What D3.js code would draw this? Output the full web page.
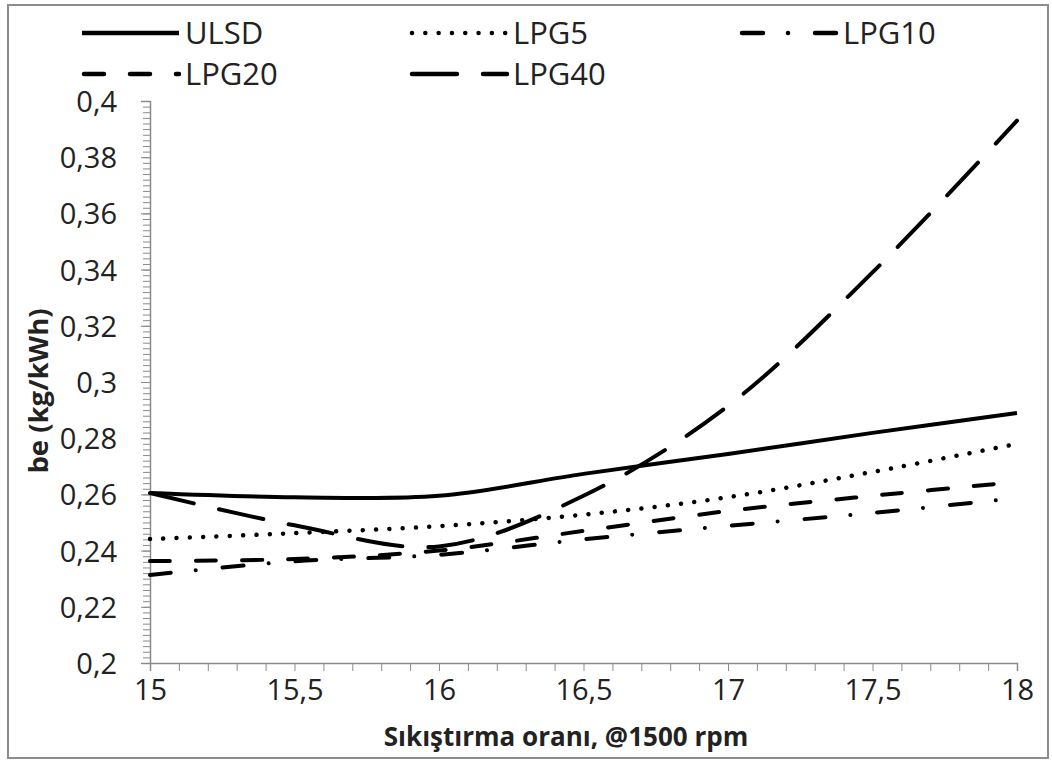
<!DOCTYPE html>
<html>
<head>
<meta charset="utf-8">
<script src="https://cdn.jsdelivr.net/npm/d3@7"></script>
<style>
  html, body { margin: 0; padding: 0; background: #fff; }
  svg { display: block; }
  text { font-family: "Open Sans", "Noto Sans", sans-serif; fill: #222; }
</style>
</head>
<body>
<svg id="chart" width="1052" height="761"></svg>
<script>
// Compression ratio (x) and brake specific fuel consumption (kg/kWh) per fuel
const ratios = [15, 15.5, 16, 16.5, 17, 17.5, 18];
const ulsd  = [0.2605, 0.2590, 0.2595, 0.2673, 0.2744, 0.2819, 0.2890];
const lpg5  = [0.2441, 0.2462, 0.2487, 0.2528, 0.2590, 0.2680, 0.2780];
const lpg10 = [0.2313, 0.2362, 0.2385, 0.2440, 0.2488, 0.2534, 0.2587];
const lpg20 = [0.2363, 0.2370, 0.2400, 0.2470, 0.2541, 0.2595, 0.2644];
const lpg40 = [0.2605, 0.2490, 0.2415, 0.2595, 0.2915, 0.3390, 0.3930];

const seriesNames = ["ULSD", "LPG5", "LPG10", "LPG20", "LPG40"];
const seriesValues = [ulsd, lpg5, lpg10, lpg20, lpg40];

const xTicks = [15, 15.5, 16, 16.5, 17, 17.5, 18];
const xTickLabels = ["15", "15,5", "16", "16,5", "17", "17,5", "18"];
const yTicks = [0.2, 0.22, 0.24, 0.26, 0.28, 0.3, 0.32, 0.34, 0.36, 0.38, 0.4];
const yTickLabels = ["0,2", "0,22", "0,24", "0,26", "0,28", "0,3", "0,32", "0,34", "0,36", "0,38", "0,4"];

const xTitle = "Sıkıştırma oranı, @1500 rpm";
const yTitle = "be (kg/kWh)";

// Line styles
const dashes = {
  ULSD:  null,
  LPG5:  "0.01 13.3",
  LPG10: "21 25 0.01 27",
  LPG20: "20 26",
  LPG40: "45 26"
};

const svg = d3.select("#chart");

// outer frame
svg.append("rect")
  .attr("x", 8).attr("y", 5).attr("width", 1040).attr("height", 753)
  .attr("fill", "none").attr("stroke", "#8c8c8c").attr("stroke-width", 2);

const x = d3.scaleLinear().domain([15, 18]).range([150, 1017]);
const y = d3.scaleLinear().domain([0.2, 0.4]).range([663, 101]);

// minor y ticks (every 0.002)
const yMinor = d3.range(0, 101).map(i => 0.2 + i * 0.002);
svg.append("g")
  .attr("transform", `translate(${x(15)},0)`)
  .call(d3.axisLeft(y).tickValues(yMinor).tickSize(7).tickFormat(""))
  .call(g => g.select(".domain").remove())
  .selectAll("line").attr("stroke", "#8a8a8a").attr("stroke-width", 1);

// y axis with major ticks and labels
const yAxis = svg.append("g")
  .attr("transform", `translate(${x(15)},0)`)
  .call(d3.axisLeft(y).tickValues(yTicks).tickSize(9).tickPadding(24)
    .tickFormat((d, i) => yTickLabels[i]));
yAxis.select(".domain").attr("stroke", "#8a8a8a").attr("stroke-width", 1.5);
yAxis.selectAll("line").attr("stroke", "#8a8a8a").attr("stroke-width", 1);
yAxis.selectAll("text").style("font-size", "29px").attr("fill", "#262626").attr("dy", "0.36em");

// x axis: minor ticks every 0.1, labels at 0.5 steps
const xMinor = d3.range(0, 31).map(i => 15 + i * 0.1);
svg.append("g")
  .attr("transform", `translate(0,${y(0.2)})`)
  .call(d3.axisBottom(x).tickValues(xMinor).tickSize(8).tickFormat(""))
  .call(g => g.select(".domain").attr("stroke", "#8a8a8a").attr("stroke-width", 1.5))
  .selectAll("line").attr("stroke", "#8a8a8a").attr("stroke-width", 1);

const xAxis = svg.append("g")
  .attr("transform", `translate(0,${y(0.2)})`)
  .call(d3.axisBottom(x).tickValues(xTicks).tickSize(0).tickPadding(16)
    .tickFormat((d, i) => xTickLabels[i]));
xAxis.select(".domain").remove();
xAxis.selectAll("text").style("font-size", "29px").attr("fill", "#262626");

// axis titles
svg.append("text")
  .attr("x", 566).attr("y", 746)
  .attr("text-anchor", "middle")
  .style("font-size", "26px").style("font-weight", "bold").attr("fill", "#111")
  .text(xTitle);

svg.append("text")
  .attr("transform", "translate(48,391) rotate(-90)")
  .attr("text-anchor", "middle")
  .style("font-size", "27.5px").style("font-weight", "bold").attr("fill", "#111")
  .text(yTitle);

// data lines
const line = d3.line()
  .x((d, i) => x(ratios[i]))
  .y(d => y(d))
  .curve(d3.curveCatmullRom.alpha(0.5));

seriesNames.forEach((name, k) => {
  svg.append("path")
    .datum(seriesValues[k])
    .attr("d", line)
    .attr("fill", "none")
    .attr("stroke", "#000")
    .attr("stroke-width", name === "LPG5" ? 4.5 : 4)
    .attr("stroke-linecap", dashes[name] ? "round" : "butt")
    .attr("stroke-dasharray", dashes[name]);
});

// legend: three columns, two rows
const legendCols = [82, 410, 740];
const legendRows = [33, 74];
seriesNames.forEach((name, k) => {
  const cx = legendCols[k % 3];
  const cy = legendRows[Math.floor(k / 3)];
  svg.append("line")
    .attr("x1", cx + (dashes[name] ? 2 : 0)).attr("x2", cx + 97)
    .attr("y1", cy).attr("y2", cy)
    .attr("stroke", "#000")
    .attr("stroke-width", 4.5)
    .attr("stroke-linecap", dashes[name] ? "round" : "butt")
    .attr("stroke-dasharray", dashes[name]);
  svg.append("text")
    .attr("x", cx + 103).attr("y", cy)
    .attr("dy", "0.36em")
    .style("font-size", "31px").attr("fill", "#222")
    .text(name);
});
</script>
</body>
</html>
